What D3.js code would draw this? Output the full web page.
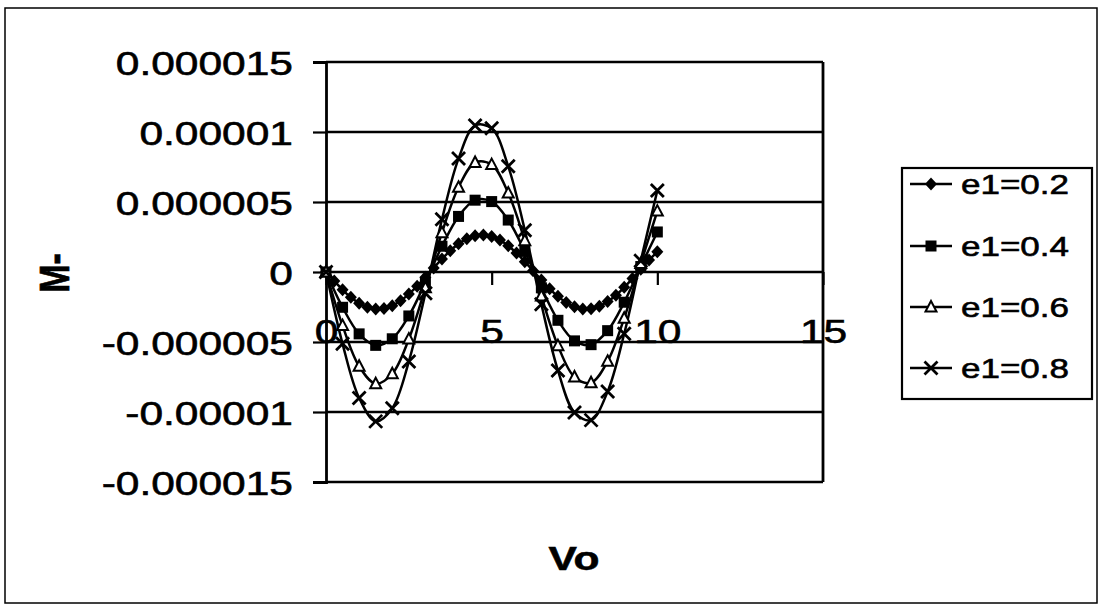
<!DOCTYPE html>
<html><head><meta charset="utf-8">
<script src="https://cdn.jsdelivr.net/npm/d3@7"></script>
<style>body{margin:0;background:#fff}svg{display:block}</style>
</head><body>
<svg id="c" width="1101" height="607"></svg>
<script>
// ---- data ----
const vo = [0,0.5,1,1.5,2,2.5,3,3.5,4,4.5,5,5.5,6,6.5,7,7.5,8,8.5,9,9.5,10];
const voFine = [0,0.25,0.5,0.75,1,1.25,1.5,1.75,2,2.25,2.5,2.75,3,3.25,3.5,3.75,4,4.25,4.5,4.75,5,
  5.25,5.5,5.75,6,6.25,6.5,6.75,7,7.25,7.5,7.75,8,8.25,8.5,8.75,9,9.25,9.5,9.75,10];
const e1_02 = [0,-0.65e-6,-1.27e-6,-1.81e-6,-2.23e-6,-2.51e-6,-2.64e-6,-2.61e-6,-2.41e-6,-2.06e-6,-1.58e-6,
  -1.01e-6,-0.37e-6,0.29e-6,0.93e-6,1.52e-6,2.01e-6,2.37e-6,2.59e-6,2.65e-6,2.54e-6,2.28e-6,1.87e-6,1.35e-6,
  0.74e-6,0.09e-6,-0.57e-6,-1.2e-6,-1.74e-6,-2.18e-6,-2.49e-6,-2.64e-6,-2.62e-6,-2.44e-6,-2.11e-6,-1.66e-6,
  -1.09e-6,-0.46e-6,0.2e-6,0.85e-6,1.44e-6];
const e1_04 = [0,-2.52e-6,-4.42e-6,-5.24e-6,-4.77e-6,-3.14e-6,-0.74e-6,1.84e-6,3.97e-6,5.13e-6,5.03e-6,
  3.71e-6,1.47e-6,-1.13e-6,-3.45e-6,-4.92e-6,-5.19e-6,-4.19e-6,-2.16e-6,0.39e-6,2.86e-6];
const e1_06 = [0,-3.83e-6,-6.73e-6,-7.98e-6,-7.27e-6,-4.79e-6,-1.13e-6,2.81e-6,6.05e-6,7.82e-6,7.67e-6,
  5.64e-6,2.24e-6,-1.72e-6,-5.26e-6,-7.5e-6,-7.91e-6,-6.38e-6,-3.3e-6,0.6e-6,4.35e-6];
const e1_08 = [0,-5.13e-6,-9.0e-6,-10.67e-6,-9.73e-6,-6.4e-6,-1.51e-6,3.76e-6,8.1e-6,10.46e-6,10.26e-6,
  7.55e-6,2.99e-6,-2.3e-6,-7.03e-6,-10.04e-6,-10.58e-6,-8.54e-6,-4.41e-6,0.8e-6,5.82e-6];
const seriesNames = ["e1=0.2","e1=0.4","e1=0.6","e1=0.8"];
const markerKinds = ["diamond","square","triangle","cross"];
const yTicks = [0.000015,0.00001,0.000005,0,-0.000005,-0.00001,-0.000015];
const yTickLabels = ["0.000015","0.00001","0.000005","0","-0.000005","-0.00001","-0.000015"];
const xTicks = [0,5,10,15];
const xTickLabels = ["0","5","10","15"];
const xTitle = "Vo", yTitle = "M-";

// ---- layout ----
const svg = d3.select("#c");
const FONT = "'Liberation Sans', Arial, sans-serif";
const SX = 1.25; // horizontal stretch of text seen in the reference
const L = 326, R = 823, T = 62, B = 482;
const x = d3.scaleLinear().domain([0,15]).range([L,R]);
const y = d3.scaleLinear().domain([-0.000015,0.000015]).range([B,T]);

svg.append("rect").attr("x",5).attr("y",8).attr("width",1092).attr("height",595)
  .attr("fill","#fff").attr("stroke","#000").attr("stroke-width",1.5);

// gridlines
svg.append("g").selectAll("line").data(yTicks).join("line")
  .attr("x1",L).attr("x2",R).attr("y1",d=>y(d)).attr("y2",d=>y(d))
  .attr("stroke","#000").attr("stroke-width",2.4);
// right border
svg.append("line").attr("x1",R).attr("x2",R).attr("y1",T).attr("y2",B)
  .attr("stroke","#000").attr("stroke-width",2.8);

function styleText(sel, size){
  sel.attr("font-family",FONT).attr("font-size",size).attr("fill","#000")
    .attr("stroke","#000").attr("stroke-width",0.6);
}

// y axis
const gy = svg.append("g").attr("transform",`translate(${L},0)`)
  .call(d3.axisLeft(y).tickValues(yTicks).tickSize(13).tickFormat((d,i)=>yTickLabels[i]));
gy.select(".domain").attr("stroke","#000").attr("stroke-width",2.8);
gy.selectAll(".tick line").attr("stroke","#000").attr("stroke-width",2.2);
gy.selectAll(".tick text").attr("x",null).attr("dy","0.36em")
  .attr("transform",`translate(-33,0) scale(${SX},1)`).attr("text-anchor","end")
  .call(styleText,34);

// x axis at zero
const gx = svg.append("g").attr("transform",`translate(0,${y(0)})`)
  .call(d3.axisBottom(x).tickValues(xTicks).tickSize(13).tickFormat((d,i)=>xTickLabels[i]));
gx.select(".domain").remove();
gx.selectAll(".tick line").attr("stroke","#000").attr("stroke-width",2.2);
gx.selectAll(".tick text").attr("y",null).attr("dy",null)
  .attr("transform",`translate(0,71) scale(${SX},1)`).attr("text-anchor","middle")
  .call(styleText,34);

// titles
svg.append("text").attr("transform",`translate(574,570) scale(${SX},1)`)
  .attr("text-anchor","middle").attr("font-weight","bold").call(styleText,34)
  .text(xTitle);
svg.append("text").attr("transform",`translate(69,273) scale(${SX},1) rotate(-90)`)
  .attr("text-anchor","middle").attr("font-weight","bold").call(styleText,34)
  .text(yTitle);

// markers
function marker(g, kind, cx, cy){
  if(kind==="diamond"){
    g.append("path").attr("d",`M${cx},${cy-6.5}L${cx+6},${cy}L${cx},${cy+6.5}L${cx-6},${cy}Z`).attr("fill","#000");
  } else if(kind==="square"){
    g.append("rect").attr("x",cx-5.5).attr("y",cy-5.5).attr("width",11).attr("height",11).attr("fill","#000");
  } else if(kind==="triangle"){
    g.append("path").attr("d",`M${cx},${cy-6}L${cx+5.5},${cy+4.5}L${cx-5.5},${cy+4.5}Z`)
      .attr("fill","#fff").attr("stroke","#000").attr("stroke-width",2);
  } else {
    g.append("path").attr("d",`M${cx-6.5},${cy-6.5}L${cx+6.5},${cy+6.5}M${cx-6.5},${cy+6.5}L${cx+6.5},${cy-6.5}`)
      .attr("stroke","#000").attr("stroke-width",2.8).attr("fill","none");
  }
}

const series = [
  {xs: voFine, ys: e1_02},
  {xs: vo, ys: e1_04},
  {xs: vo, ys: e1_06},
  {xs: vo, ys: e1_08}
];
const line = d3.line().x(d=>x(d[0])).y(d=>y(d[1])).curve(d3.curveCatmullRom.alpha(0.5));
const plot = svg.append("g");
series.forEach((s,k)=>{
  const pts = s.xs.map((v,i)=>[v,s.ys[i]]);
  plot.append("path").attr("d",line(pts)).attr("fill","none").attr("stroke","#000").attr("stroke-width",2.5);
});
series.forEach((s,k)=>{
  const g = plot.append("g");
  s.xs.forEach((v,i)=>marker(g, markerKinds[k], x(v), y(s.ys[i])));
});

// legend
const LX = 902, LY = 168, LW = 190, LH = 231;
svg.append("rect").attr("x",LX).attr("y",LY).attr("width",LW).attr("height",LH)
  .attr("fill","#fff").attr("stroke","#000").attr("stroke-width",2.2);
const rowY = [184,246,307,368];
seriesNames.forEach((n,k)=>{
  const g = svg.append("g");
  g.append("line").attr("x1",LX+8).attr("x2",LX+50).attr("y1",rowY[k]).attr("y2",rowY[k])
    .attr("stroke","#000").attr("stroke-width",2.5);
  marker(g, markerKinds[k], LX+29, rowY[k]);
  g.append("text").attr("transform",`translate(${LX+59},${rowY[k]}) scale(${SX},1)`)
    .attr("dy","0.36em").call(styleText,28).text(n);
});
</script>
</body></html>
